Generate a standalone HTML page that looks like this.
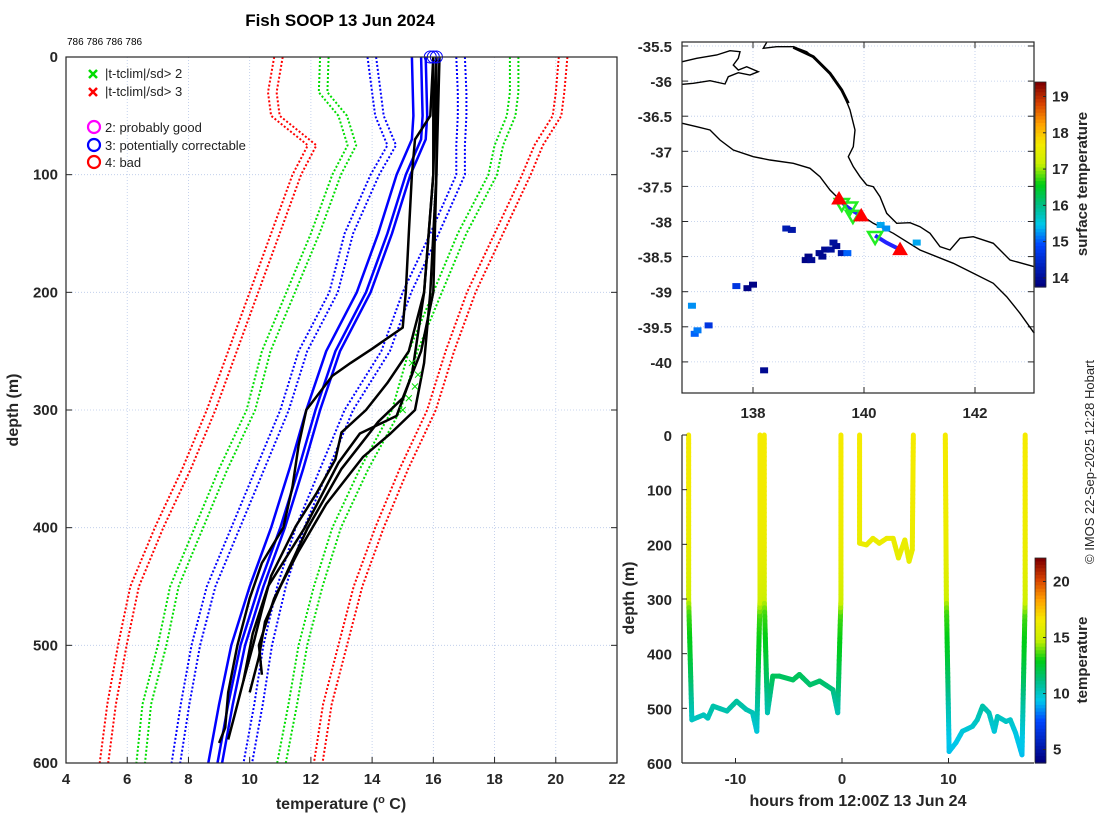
<!DOCTYPE html>
<html><head><meta charset="utf-8"><style>
html,body{margin:0;padding:0;background:#fff}
svg{display:block;font-family:"Liberation Sans","DejaVu Sans",sans-serif}
.tk{font-size:15px;font-weight:bold;fill:#262626}
</style></head><body>
<svg id="s" width="1100" height="820" viewBox="0 0 1100 820" xmlns="http://www.w3.org/2000/svg">
<rect width="1100" height="820" fill="#fff"/>
<text x="340" y="26" text-anchor="middle" font-size="17" font-weight="bold" fill="#000">Fish SOOP 13 Jun 2024</text>
<text x="67" y="45" font-size="10" fill="#000">786 786 786 786</text>
<g id="left"></g>
<g id="map"></g>
<g id="bot"></g>
<text transform="translate(1094,462) rotate(-90)" text-anchor="middle" font-size="13" fill="#262626">© IMOS 22-Sep-2025 12:28 Hobart</text>
</svg>
<script>
const NS="http://www.w3.org/2000/svg";
// ---- left profile data ----
const climDepths=[0,30,50,75,100,150,200,250,300,350,400,450,500,550,600];
const red3L=[10.8,10.6,10.7,11.9,11.4,10.7,10.0,9.3,8.6,7.8,6.9,6.1,5.7,5.35,5.1];
const green2L=[12.3,12.26,12.9,13.2,12.7,12.0,11.2,10.4,9.9,9.0,8.2,7.4,7.0,6.5,6.3];
const blue1L=[13.85,14.0,14.1,14.5,13.95,13.1,12.6,11.6,11.0,10.2,9.4,8.6,8.1,7.75,7.45];
const blue1R=[16.75,16.8,16.8,16.75,16.75,15.9,15.0,14.3,13.1,12.3,11.5,10.9,10.45,10.15,9.8];
const green2R=[18.5,18.5,18.4,18.0,17.8,16.8,16.0,15.2,14.65,13.6,12.7,12.1,11.6,11.27,10.9];
const red3R=[20.1,20.0,19.9,19.3,18.9,18.0,17.1,16.4,15.8,14.9,14.1,13.4,12.9,12.4,12.1];
const climCopyOffsets=[0,0.28];
const blueDepths=[0,50,70,100,150,200,250,300,350,400,450,500,550,600];
const blueTemps=[15.3,15.35,15.3,14.8,14.2,13.5,12.5,11.85,11.3,10.7,10.0,9.4,9.0,8.65];
const blueOffsets=[0,0.3,0.45];
const blackDepths=[
 [0,50,70,100,150,200,230,248,260,271,300,330,365,400,430,460,500,540,570,583],
 [0,100,200,250,277,300,319,342,370,399,441,470,501,530,560,580],
 [0,100,200,250,290,310,330,350,400,450,480,510,540],
 [0,100,200,260,300,320,340,380,420,460,500,525],
 [0,100,200,270,305,320,345,400,450,490,530]];
const blackTemps=[
 [16.0,15.9,15.4,15.3,15.2,15.1,15.0,14.0,13.3,12.7,11.85,11.6,11.4,11.1,10.4,10.0,9.6,9.3,9.2,9.0],
 [16.1,16.0,15.7,15.2,14.5,13.8,13.0,12.8,12.2,11.5,10.7,10.4,10.1,9.8,9.5,9.3],
 [16.2,16.1,16.0,15.6,15.0,14.2,13.6,13.0,11.9,11.0,10.5,10.3,10.0],
 [16.1,16.1,15.9,15.7,15.4,14.6,13.7,12.5,11.6,10.8,10.3,10.4],
 [16.0,16.0,15.7,15.3,14.8,13.6,12.9,11.8,10.6,10.1,9.8]];
const xTicks=[4,6,8,10,12,14,16,18,20,22];
const yTicks=[0,100,200,300,400,500,600];
// ---- map data ----
const lonTicks=[138,140,142];
const latTicks=[-35.5,-36,-36.5,-37,-37.5,-38,-38.5,-39,-39.5,-40];
const sstTicks=[14,15,16,17,18,19];
const trackLon=[139.55,139.7,139.95];
const trackLat=[-37.68,-37.8,-37.92];
const track2Lon=[140.2,140.4,140.65];
const track2Lat=[-38.2,-38.3,-38.4];
const redTriLon=[139.55,139.95,140.65];
const redTriLat=[-37.68,-37.92,-38.4];
const greenTriLon=[139.6,139.75,139.8,140.2];
const greenTriLat=[-37.75,-37.8,-37.92,-38.22];
const sstLon=[139.2,139.3,139.4,139.5,139.6,139.25,139.45,139.7,138.95,139.0,139.05,138.6,138.7,137.9,138.0,137.7,136.9,136.95,137.0,137.2,138.2,140.3,140.4,140.95];
const sstLat=[-38.45,-38.4,-38.4,-38.35,-38.45,-38.5,-38.3,-38.45,-38.55,-38.5,-38.55,-38.1,-38.12,-38.95,-38.9,-38.92,-39.2,-39.6,-39.55,-39.48,-40.12,-38.05,-38.1,-38.3];
const sstVal=[13.9,13.9,14.0,13.9,14.1,13.9,14.0,15.0,13.8,13.8,13.9,14.2,14.1,13.8,13.8,14.6,15.2,15.0,15.1,14.6,13.9,15.3,15.2,15.3];
// ---- depth-time data ----
const dtTimes=[[-14.4,-14.4,-14.1,-13,-12.6,-12.1,-10.8,-9.9,-9,-8.4,-8,-7.7,-7.7],
 [-7.3,-7.3,-7.0,-6.5,-5.9,-4.6,-4.0,-3.0,-2.1,-0.85,-0.4,-0.1,-0.1],
 [1.65,1.65,2.3,2.9,3.5,4.2,4.8,5.3,5.9,6.3,6.6,6.7],
 [9.7,9.8,10.06,10.7,11.3,12.25,12.7,13.2,13.8,14.3,14.6,15.4,15.8,16.3,16.9,17.2,17.2]];
const dtDepths=[[0,300,521,512,518,496,505,487,502,508,542,300,0],
 [0,300,508,441,441,448,438,457,450,466,508,300,0],
 [0,198,201,189,198,189,189,225,192,231,210,0],
 [0,300,579,563,542,533,521,496,508,542,515,524,521,545,585,300,0]];
const tdDepth=[0,100,200,250,300,330,400,450,500,550,600];
const tdTemp=[16.6,16.5,16.2,15.8,15.1,13.5,12.6,11.6,10.4,9.4,9.0];
const hrTicks=[-10,0,10];
const tcTicks=[5,10,15,20];

const stops=[[0,0,0,128],[.2,0,70,255],[.3,0,200,235],[.4,0,190,130],[.5,0,205,20],[.6,200,240,0],[.7,245,235,0],[.8,255,160,0],[.9,215,65,0],[1,128,0,0]];
function cmap(v){v=Math.max(0,Math.min(1,v));for(let i=1;i<stops.length;i++){if(v<=stops[i][0]){const a=stops[i-1],b=stops[i],f=(v-a[0])/(b[0]-a[0]);return `rgb(${Math.round(a[1]+f*(b[1]-a[1]))},${Math.round(a[2]+f*(b[2]-a[2]))},${Math.round(a[3]+f*(b[3]-a[3]))})`;}}return 'rgb(128,0,0)';}
function el(p,tag,attrs,txt){const e=document.createElementNS(NS,tag);for(const k in attrs)e.setAttribute(k,attrs[k]);if(txt!==undefined)e.textContent=txt;p.appendChild(e);return e;}
function interp(xs,ys,x){if(x<=xs[0])return ys[0];for(let i=1;i<xs.length;i++)if(x<=xs[i]){const f=(x-xs[i-1])/(xs[i]-xs[i-1]);return ys[i-1]+f*(ys[i]-ys[i-1]);}return ys[ys.length-1];}

// ===== LEFT =====
const L=document.getElementById('left');
const LX0=66,LX1=617,LY0=57,LY1=763;
const lx=t=>LX0+(t-4)/18*(LX1-LX0), ly=d=>LY0+d/600*(LY1-LY0);
xTicks.forEach(t=>{const g=el(L,'line',{x1:lx(t),x2:lx(t),y1:LY0,y2:LY1,stroke:'#b8c8e8','stroke-width':0.8,'stroke-dasharray':'1 2'});

const tl=el(L,'text',{x:lx(t),y:784,'text-anchor':'middle',class:'tk'},t);
el(L,'line',{x1:lx(t),x2:lx(t),y1:LY1,y2:LY1-6,stroke:'#262626'});});
yTicks.forEach(d=>{const g=el(L,'line',{x1:LX0,x2:LX1,y1:ly(d),y2:ly(d),stroke:'#b8c8e8','stroke-width':0.8,'stroke-dasharray':'1 2'});

const tl=el(L,'text',{x:58,y:ly(d)+5,'text-anchor':'end',class:'tk'},d);
el(L,'line',{x1:LX0,x2:LX0+6,y1:ly(d),y2:ly(d),stroke:'#262626'});el(L,'line',{x1:LX1,x2:LX1-6,y1:ly(d),y2:ly(d),stroke:'#262626'});});
function prof(ds,ts,off,col,dash,w,name){const pts=ds.map((d,i)=>lx(ts[i]+off).toFixed(1)+','+ly(d).toFixed(1)).join(' ');
const p=el(L,'polyline',{points:pts,fill:'none',stroke:col,'stroke-width':w,'stroke-linejoin':'round'});if(dash)p.setAttribute('stroke-dasharray',dash);

}
[[red3L,'#ff0000','clim-minus-3sd'],[green2L,'#00dd00','clim-minus-2sd'],[blue1L,'#0000ff','clim-minus-1sd'],[blue1R,'#0000ff','clim-plus-1sd'],[green2R,'#00dd00','clim-plus-2sd'],[red3R,'#ff0000','clim-plus-3sd']].forEach(b=>{
climCopyOffsets.forEach(o=>prof(climDepths,b[0],o,b[1],'2 2',2,b[2]));});
blueOffsets.forEach(o=>prof(blueDepths,blueTemps,o,'#0000ff',null,2.5,'flagged-profile'));
blackDepths.forEach((ds,i)=>prof(ds,blackTemps[i],0,'#000',null,2.5,'temperature-profile'));
[15.9,16.0,16.1].forEach(t=>{const c=el(L,'circle',{cx:lx(t),cy:ly(0),r:6,fill:'none',stroke:'#0000ff','stroke-width':1});});
[[15.3,260],[15.5,270],[15.2,290],[15.0,300],[15.4,280]].forEach(p=>{const x=lx(p[0]),y=ly(p[1]);const m=el(L,'path',{d:`M${x-3},${y-3}L${x+3},${y+3}M${x-3},${y+3}L${x+3},${y-3}`,stroke:'#00dd00','stroke-width':1});});
el(L,'rect',{x:LX0,y:LY0,width:LX1-LX0,height:LY1-LY0,fill:'none',stroke:'#262626','stroke-width':1.2});
// legend
const leg=el(L,'g',{});
function cross(x,y,c){el(leg,'path',{d:`M${x-4},${y-4}L${x+4},${y+4}M${x-4},${y+4}L${x+4},${y-4}`,stroke:c,'stroke-width':2.5});}
cross(93,74,'#00dd00');el(leg,'text',{x:105,y:78,'font-size':13,fill:'#222'},'|t-tclim|/sd> 2');
cross(93,92,'#ff0000');el(leg,'text',{x:105,y:96,'font-size':13,fill:'#222'},'|t-tclim|/sd> 3');
el(leg,'circle',{cx:94,cy:127,r:6,fill:'none',stroke:'#ff00ff','stroke-width':2.2});el(leg,'text',{x:105,y:132,'font-size':13,fill:'#222'},'2: probably good');
el(leg,'circle',{cx:94,cy:145,r:6,fill:'none',stroke:'#0000ff','stroke-width':2.2});el(leg,'text',{x:105,y:150,'font-size':13,fill:'#222'},'3: potentially correctable');
el(leg,'circle',{cx:94,cy:162,r:6,fill:'none',stroke:'#ff0000','stroke-width':2.2});el(leg,'text',{x:105,y:167,'font-size':13,fill:'#222'},'4: bad');
const xl=el(L,'text',{x:341,y:809,'text-anchor':'middle','font-size':16,'font-weight':'bold',fill:'#262626'});xl.innerHTML='temperature (<tspan dy="-6" font-size="11">o</tspan><tspan dy="6"> C)</tspan>';

const yl=el(L,'text',{transform:'translate(18,410) rotate(-90)','text-anchor':'middle','font-size':16,'font-weight':'bold',fill:'#262626'},'depth (m)');


// ===== MAP =====
const M=document.getElementById('map');
const MX0=682,MX1=1034,MY0=42,MY1=393;
const mx=lon=>753+(lon-138)*55.5, my=lat=>46+(-35.5-lat)*70.2;
lonTicks.forEach(v=>{el(M,'line',{x1:mx(v),x2:mx(v),y1:MY0,y2:MY1,stroke:'#b8c8e8','stroke-width':0.8,'stroke-dasharray':'1 2'});
const t=el(M,'text',{x:mx(v),y:418,'text-anchor':'middle',class:'tk'},v);
el(M,'line',{x1:mx(v),x2:mx(v),y1:MY1,y2:MY1-6,stroke:'#262626'});el(M,'line',{x1:mx(v),x2:mx(v),y1:MY0,y2:MY0+6,stroke:'#262626'});});
latTicks.forEach(v=>{el(M,'line',{x1:MX0,x2:MX1,y1:my(v),y2:my(v),stroke:'#b8c8e8','stroke-width':0.8,'stroke-dasharray':'1 2'});
const t=el(M,'text',{x:672,y:my(v)+6,'text-anchor':'end',class:'tk'},v);
el(M,'line',{x1:MX0,x2:MX0+6,y1:my(v),y2:my(v),stroke:'#262626'});el(M,'line',{x1:MX1,x2:MX1-6,y1:my(v),y2:my(v),stroke:'#262626'});});
const z=(a)=>a.map(p=>(620+p[0]/3).toFixed(1)+','+(30+p[1]/3).toFixed(1)).join(' ');
const coast1=[[187,95],[230,85],[290,75],[330,62],[360,65],[355,85],[340,105],[355,120],[380,110],[415,125],[390,135],[355,128],[325,140],[315,162],[270,152],[220,160],[187,163]];
const coast2=[[187,280],[230,290],[270,300],[300,330],[340,360],[400,380],[450,390],[520,400],[570,415],[600,440],[630,480],[660,510],[700,540],[760,580],[820,610],[900,660],[1000,700],[1060,730],[1120,760],[1160,800],[1200,850],[1243,910]];
const coast3=[[440,37],[430,55],[470,50],[520,50],[560,65],[600,100],[640,140],[670,190],[690,240],[705,300],[700,350],[685,380],[700,410],[720,440],[740,465],[760,470],[780,500],[800,550],[830,580],[870,578],[900,590],[930,610],[960,650],[990,660],[1020,625],[1060,620],[1120,640],[1170,690],[1243,710]];
[coast1,coast2,coast3].forEach(c=>{const p=el(M,'polyline',{points:z(c),fill:'none',stroke:'#000','stroke-width':1.4});});
el(M,'polyline',{points:z([[520,52],[580,80],[630,130],[665,180],[685,220]]),fill:'none',stroke:'#000','stroke-width':3});
sstLon.forEach((lo,i)=>{const r=el(M,'rect',{x:mx(lo)-4,y:my(sstLat[i])-3,width:8,height:6,fill:cmap((sstVal[i]-13.75)/5.65)});});
[[trackLon,trackLat],[track2Lon,track2Lat]].forEach(t=>{const p=el(M,'polyline',{points:t[0].map((lo,i)=>mx(lo)+','+my(t[1][i])).join(' '),fill:'none',stroke:'#2222ff','stroke-width':4});});
greenTriLon.forEach((lo,i)=>{const x=mx(lo),y=my(greenTriLat[i]);const p=el(M,'path',{d:`M${x-7},${y-5}L${x+7},${y-5}L${x},${y+7}Z`,fill:'none',stroke:'#22ee22','stroke-width':2.5});});
redTriLon.forEach((lo,i)=>{const x=mx(lo),y=my(redTriLat[i]);const p=el(M,'path',{d:`M${x-7},${y+5}L${x+7},${y+5}L${x},${y-7}Z`,fill:'#ff0000',stroke:'#ff0000','stroke-width':1});});
el(M,'rect',{x:MX0,y:MY0,width:MX1-MX0,height:MY1-MY0,fill:'none',stroke:'#262626','stroke-width':1.2});
// colorbar 1
const CB1T=82,CB1B=287,c1lo=13.75,c1hi=19.4;
for(let i=0;i<60;i++){el(M,'rect',{x:1035,y:CB1T+i*(CB1B-CB1T)/60,width:11,height:(CB1B-CB1T)/60+0.6,fill:cmap(1-i/59)});}
el(M,'rect',{x:1035,y:CB1T,width:11,height:CB1B-CB1T,fill:'none',stroke:'#262626','stroke-width':0.8});
const cy1=v=>CB1B-(v-c1lo)/(c1hi-c1lo)*(CB1B-CB1T);
sstTicks.forEach(v=>{el(M,'line',{x1:1043,x2:1046,y1:cy1(v),y2:cy1(v),stroke:'#262626'});const t=el(M,'text',{x:1052,y:cy1(v)+5,class:'tk'},v);});
const st=el(M,'text',{transform:'translate(1087,184) rotate(-90)','text-anchor':'middle','font-size':15,'font-weight':'bold',fill:'#262626'},'surface temperature');


// ===== BOTTOM =====
const B=document.getElementById('bot');
const BX0=682,BX1=1034,BY0=435,BY1=763;
const bx=h=>842+h*10.65, by=d=>BY0+d/600*(BY1-BY0);
const c2lo=3.8,c2hi=22.1;
dtTimes.forEach((ts,k)=>{const ds=dtDepths[k];
 for(let i=1;i<ts.length;i++){const n=Math.max(1,Math.ceil(Math.abs(ds[i]-ds[i-1])/8));
  for(let j=0;j<n;j++){const f0=j/n,f1=(j+1)/n;const t0=ts[i-1]+f0*(ts[i]-ts[i-1]),t1=ts[i-1]+f1*(ts[i]-ts[i-1]);
   const d0=ds[i-1]+f0*(ds[i]-ds[i-1]),d1=ds[i-1]+f1*(ds[i]-ds[i-1]);
   const T=interp(tdDepth,tdTemp,(d0+d1)/2);
   const s=el(B,'line',{x1:bx(t0),y1:by(d0),x2:bx(t1),y2:by(d1),stroke:cmap((T-c2lo)/(c2hi-c2lo)),'stroke-width':5,'stroke-linecap':'round'});
   
   }}});
el(B,'line',{x1:BX0,x2:BX0,y1:BY0,y2:BY1,stroke:'#262626','stroke-width':1.2});
el(B,'line',{x1:BX0,x2:BX1,y1:BY1,y2:BY1,stroke:'#262626','stroke-width':1.2});
yTicks.forEach(d=>{el(B,'line',{x1:BX0,x2:BX0+5,y1:by(d),y2:by(d),stroke:'#262626'});const t=el(B,'text',{x:672,y:by(d)+6,'text-anchor':'end',class:'tk'},d);});
hrTicks.forEach(h=>{el(B,'line',{x1:bx(h),x2:bx(h),y1:BY1,y2:BY1-5,stroke:'#262626'});const t=el(B,'text',{x:bx(h),y:784,'text-anchor':'middle',class:'tk'},h);});
const bxl=el(B,'text',{x:858,y:806,'text-anchor':'middle','font-size':16,'font-weight':'bold',fill:'#262626'},'hours from 12:00Z 13 Jun 24');

const byl=el(B,'text',{transform:'translate(634,598) rotate(-90)','text-anchor':'middle','font-size':16,'font-weight':'bold',fill:'#262626'},'depth (m)');

const CB2T=558,CB2B=763;
for(let i=0;i<60;i++){el(B,'rect',{x:1035,y:CB2T+i*(CB2B-CB2T)/60,width:11,height:(CB2B-CB2T)/60+0.6,fill:cmap(1-i/59)});}
el(B,'rect',{x:1035,y:CB2T,width:11,height:CB2B-CB2T,fill:'none',stroke:'#262626','stroke-width':0.8});
const cy2=v=>CB2B-(v-c2lo)/(c2hi-c2lo)*(CB2B-CB2T);
tcTicks.forEach(v=>{el(B,'line',{x1:1043,x2:1046,y1:cy2(v),y2:cy2(v),stroke:'#262626'});const t=el(B,'text',{x:1053,y:cy2(v)+5,class:'tk'},v);});
const tt=el(B,'text',{transform:'translate(1087,660) rotate(-90)','text-anchor':'middle','font-size':15,'font-weight':'bold',fill:'#262626'},'temperature');

</script>
</body></html>
